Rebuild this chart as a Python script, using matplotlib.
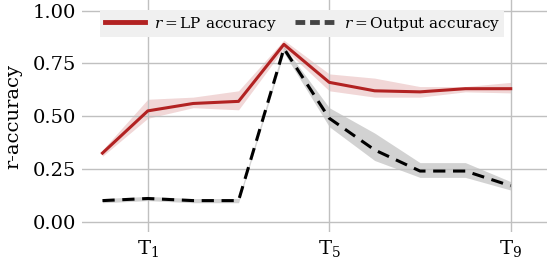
#Line chart with shaded bands for r-accuracy over steps

from matplotlib import pyplot as plt
import numpy as np

#the data
steps = np.arange(10)
tick_pos = [1, 5, 9]
tick_labels = ['T$_1$', 'T$_5$', 'T$_9$']

lp_acc = [0.325, 0.525, 0.56, 0.57, 0.84, 0.66, 0.62, 0.615, 0.63, 0.63]
lp_low = [0.31, 0.49, 0.54, 0.53, 0.82, 0.62, 0.59, 0.59, 0.615, 0.61]
lp_high = [0.34, 0.58, 0.59, 0.62, 0.86, 0.70, 0.68, 0.64, 0.64, 0.66]

out_acc = [0.10, 0.11, 0.10, 0.10, 0.82, 0.49, 0.34, 0.24, 0.24, 0.17]
out_low = [0.09, 0.10, 0.09, 0.09, 0.80, 0.45, 0.29, 0.21, 0.21, 0.15]
out_high = [0.11, 0.12, 0.11, 0.11, 0.83, 0.54, 0.42, 0.28, 0.28, 0.19]

plt.rcParams['font.family'] = ['DejaVu Serif']
plt.rcParams['mathtext.fontset'] = 'dejavuserif'

fig, ax = plt.subplots(figsize=(5.47, 2.61), dpi=100)
fig.subplots_adjust(left=0.15, right=1.0, top=1.0, bottom=0.11)

red = '#b22222'
ax.fill_between(steps, lp_low, lp_high, color=red, alpha=0.18, lw=0)
ax.fill_between(steps, out_low, out_high, color='grey', alpha=0.35, lw=0)
ax.plot(steps, lp_acc, color=red, lw=2.2, label='$r = $LP accuracy')
ax.plot(steps, out_acc, color='black', lw=2.2, ls=(0, (4, 2.5)),
        label='$r = $Output accuracy')

ax.set_xlim(-0.45, 9.8)
ax.set_ylim(-0.05, 1.05)
ax.set_yticks([0, 0.25, 0.5, 0.75, 1.0])
ax.set_yticklabels(['0.00', '0.25', '0.50', '0.75', '1.00'])
ax.set_xticks(tick_pos)
ax.set_xticklabels(tick_labels)
ax.set_ylabel('r-accuracy', fontsize=14, labelpad=8)
ax.tick_params(labelsize=14, length=0, pad=4)

#grid and no spines
ax.grid(True, color='#c0c0c0', lw=1)
for s in ax.spines.values():
    s.set_visible(False)

leg = ax.legend(ncol=2, loc='upper right', bbox_to_anchor=(0.925, 0.99),
                fontsize=11, frameon=True, facecolor='#f0f0f0', edgecolor='none',
                framealpha=1, fancybox=False, handlelength=2.6, columnspacing=1.2,
                handletextpad=0.6, borderpad=0.3)
for line in leg.get_lines():
    line.set_linewidth(3.5)
leg.get_lines()[1].set_color('#444444')
leg.get_lines()[1].set_dashes((2, 1))

plt.savefig('out.png', dpi=100)
